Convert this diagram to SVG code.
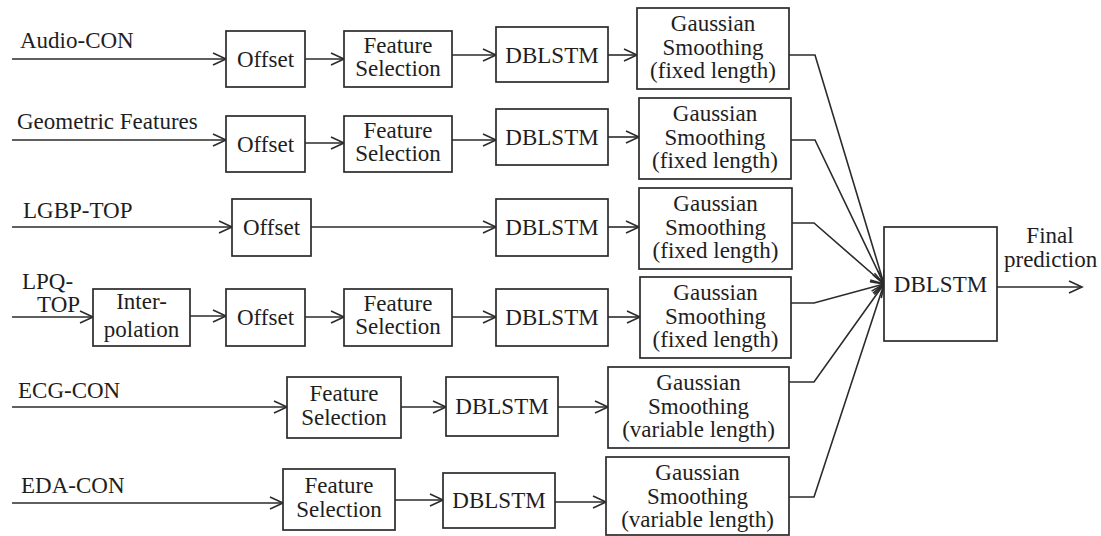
<svg xmlns="http://www.w3.org/2000/svg" width="1101" height="536" viewBox="0 0 1101 536" font-family="'Liberation Serif', 'Times New Roman', Tinos, 'DejaVu Serif', serif">
<defs>
<marker id="arr" markerUnits="userSpaceOnUse" markerWidth="16" markerHeight="16" viewBox="0 0 16 16" refX="14" refY="8" orient="auto">
<path d="M1,2 L14,8 L1,14" fill="none" stroke="#2b2b2b" stroke-width="1.6"/>
</marker>
<style>
.b{fill:#fff;stroke:#2b2b2b;stroke-width:1.7}
.t{font-family:'Liberation Serif','Times New Roman',Tinos,serif;font-size:23px;fill:#1e1e1e}
.c{text-anchor:middle}
.a{fill:none;stroke:#2b2b2b;stroke-width:1.6;marker-end:url(#arr)}
</style>
</defs>
<rect width="1101" height="536" fill="#fff"/>

<g id="connectors">
<line class="a" x1="12" y1="59" x2="226" y2="59"/>
<line class="a" x1="305" y1="59" x2="344" y2="59"/>
<line class="a" x1="452" y1="55" x2="496" y2="55"/>
<line class="a" x1="608" y1="55" x2="637" y2="55"/>
<line class="a" x1="12" y1="140" x2="226" y2="140"/>
<line class="a" x1="305" y1="143" x2="344" y2="143"/>
<line class="a" x1="452" y1="140" x2="496" y2="140"/>
<line class="a" x1="608" y1="137" x2="639" y2="137"/>
<line class="a" x1="12" y1="227" x2="232" y2="227"/>
<line class="a" x1="311" y1="227" x2="496" y2="227"/>
<line class="a" x1="608" y1="227" x2="639" y2="227"/>
<line class="a" x1="12" y1="317" x2="93" y2="317"/>
<line class="a" x1="190" y1="316" x2="226" y2="316"/>
<line class="a" x1="305" y1="317" x2="344" y2="317"/>
<line class="a" x1="452" y1="317" x2="496" y2="317"/>
<line class="a" x1="608" y1="317" x2="640" y2="317"/>
<line class="a" x1="12" y1="407" x2="287" y2="407"/>
<line class="a" x1="401" y1="407" x2="446" y2="407"/>
<line class="a" x1="558" y1="407" x2="608" y2="407"/>
<line class="a" x1="12" y1="503" x2="283" y2="503"/>
<line class="a" x1="395" y1="500" x2="443" y2="500"/>
<line class="a" x1="555" y1="502" x2="606" y2="502"/>
<polyline class="a" points="789,55 815,55 884,284"/>
<polyline class="a" points="791,140 815,140 884,284"/>
<polyline class="a" points="792,223 814,223 884,284"/>
<polyline class="a" points="791,303 814,303 884,284"/>
<polyline class="a" points="789,382 814,382 884,284"/>
<polyline class="a" points="789,497 814,497 884,284"/>
<line class="a" x1="997" y1="287" x2="1082" y2="287"/>
</g>

<g id="labels">
<text class="t" x="20" y="48">Audio-CON</text>
<text class="t" x="17" y="129">Geometric Features</text>
<text class="t" x="23" y="218">LGBP-TOP</text>
<text class="t" x="22" y="289">LPQ-</text>
<text class="t" x="37" y="312">TOP</text>
<text class="t" x="18" y="398">ECG-CON</text>
<text class="t" x="21" y="493">EDA-CON</text>
<text class="t c" x="1050" y="243">Final</text>
<text class="t" x="1004" y="267">prediction</text>
</g>

<g id="offset1"><rect class="b" x="226" y="31" width="79" height="56"/><text class="t c" x="265.5" y="67">Offset</text></g>
<g id="fs1"><rect class="b" x="344" y="31" width="108" height="56"/><text class="t c" x="398" y="53">Feature</text><text class="t c" x="398" y="76">Selection</text></g>
<g id="dblstm1"><rect class="b" x="496" y="27" width="112" height="55"/><text class="t c" x="552" y="63">DBLSTM</text></g>
<g id="gs1"><rect class="b" x="637" y="8" width="152" height="81"/><text class="t c" x="713" y="31">Gaussian</text><text class="t c" x="713" y="55">Smoothing</text><text class="t c" x="713" y="78">(fixed length)</text></g>

<g id="offset2"><rect class="b" x="226" y="116" width="79" height="56"/><text class="t c" x="265.5" y="152">Offset</text></g>
<g id="fs2"><rect class="b" x="344" y="116" width="108" height="56"/><text class="t c" x="398" y="138">Feature</text><text class="t c" x="398" y="161">Selection</text></g>
<g id="dblstm2"><rect class="b" x="496" y="109" width="112" height="56"/><text class="t c" x="552" y="145">DBLSTM</text></g>
<g id="gs2"><rect class="b" x="639" y="98" width="152" height="81"/><text class="t c" x="715" y="121">Gaussian</text><text class="t c" x="715" y="145">Smoothing</text><text class="t c" x="715" y="168">(fixed length)</text></g>

<g id="offset3"><rect class="b" x="232" y="199" width="79" height="57"/><text class="t c" x="271.5" y="235">Offset</text></g>
<g id="dblstm3"><rect class="b" x="496" y="199" width="112" height="57"/><text class="t c" x="552" y="235">DBLSTM</text></g>
<g id="gs3"><rect class="b" x="639" y="188" width="153" height="81"/><text class="t c" x="715.5" y="211">Gaussian</text><text class="t c" x="715.5" y="235">Smoothing</text><text class="t c" x="715.5" y="258">(fixed length)</text></g>

<g id="interp4"><rect class="b" x="93" y="289" width="97" height="57"/><text class="t c" x="141.5" y="309">Inter-</text><text class="t c" x="141.5" y="337">polation</text></g>
<g id="offset4"><rect class="b" x="226" y="289" width="79" height="57"/><text class="t c" x="265.5" y="325">Offset</text></g>
<g id="fs4"><rect class="b" x="344" y="289" width="108" height="57"/><text class="t c" x="398" y="311">Feature</text><text class="t c" x="398" y="334">Selection</text></g>
<g id="dblstm4"><rect class="b" x="496" y="289" width="112" height="57"/><text class="t c" x="552" y="325">DBLSTM</text></g>
<g id="gs4"><rect class="b" x="640" y="277" width="151" height="81"/><text class="t c" x="715.5" y="300">Gaussian</text><text class="t c" x="715.5" y="324">Smoothing</text><text class="t c" x="715.5" y="347">(fixed length)</text></g>

<g id="fs5"><rect class="b" x="287" y="377" width="114" height="61"/><text class="t c" x="344" y="401">Feature</text><text class="t c" x="344" y="425">Selection</text></g>
<g id="dblstm5"><rect class="b" x="446" y="377" width="112" height="59"/><text class="t c" x="502" y="414">DBLSTM</text></g>
<g id="gs5"><rect class="b" x="608" y="367" width="181" height="81"/><text class="t c" x="698.5" y="390">Gaussian</text><text class="t c" x="698.5" y="414">Smoothing</text><text class="t c" x="698.5" y="437">(variable length)</text></g>

<g id="fs6"><rect class="b" x="283" y="469" width="112" height="61"/><text class="t c" x="339" y="493">Feature</text><text class="t c" x="339" y="517">Selection</text></g>
<g id="dblstm6"><rect class="b" x="443" y="473" width="112" height="55"/><text class="t c" x="499" y="508">DBLSTM</text></g>
<g id="gs6"><rect class="b" x="606" y="457" width="183" height="78"/><text class="t c" x="697.5" y="480">Gaussian</text><text class="t c" x="697.5" y="504">Smoothing</text><text class="t c" x="697.5" y="527">(variable length)</text></g>

<g id="final"><rect class="b" x="884" y="227" width="113" height="114"/><text class="t c" x="940.5" y="292">DBLSTM</text></g>
</svg>
